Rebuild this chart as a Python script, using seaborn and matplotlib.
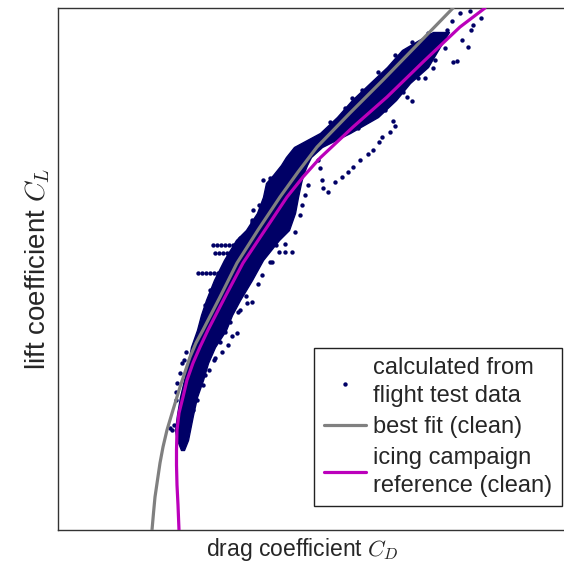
import seaborn as sns
import matplotlib.pyplot as plt
import pandas as pd

# best fit polar (clean)
fit_cd = [0.0304, 0.0307, 0.0310, 0.0315, 0.0320, 0.0326, 0.0334, 0.0346, 0.0360, 0.0370, 0.0380,
          0.0392, 0.0406, 0.0440, 0.0474, 0.0516, 0.0560, 0.0596, 0.0634, 0.0700, 0.0766, 0.0836, 0.0906]
fit_cl = [0.000, 0.0425, 0.0825, 0.125, 0.1675, 0.2075, 0.250, 0.300, 0.3575, 0.395, 0.4325,
          0.4675, 0.500, 0.5825, 0.6675, 0.750, 0.8325, 0.895, 0.9575, 1.0425, 1.125, 1.215, 1.305]

# icing campaign reference polar (clean)
ref_cd = [0.0358, 0.0356, 0.0354, 0.0353, 0.0353, 0.0354, 0.0358, 0.0366, 0.0374, 0.0386, 0.0400, 0.0416,
          0.0450, 0.0486, 0.0530, 0.0574, 0.0606, 0.0640, 0.0706, 0.0774, 0.0846, 0.0920, 0.0970]
ref_cl = [0.000, 0.0625, 0.1125, 0.1625, 0.200, 0.250, 0.2925, 0.3325, 0.375, 0.4175, 0.4575, 0.500,
          0.5825, 0.6675, 0.750, 0.8325, 0.8825, 0.930, 1.0075, 1.0825, 1.170, 1.2575, 1.305]

# dense part of the flight test cloud (left / right edge per CL)
core_cl = [0.200, 0.225, 0.250, 0.2875, 0.3325, 0.375, 0.4175, 0.4575, 0.500, 0.5375, 0.575, 0.625,
           0.675, 0.725, 0.750, 0.7925, 0.8325, 0.8675, 0.8875, 0.9125, 0.9325, 0.9575, 0.9925,
           1.0325, 1.075, 1.1175, 1.1575, 1.200, 1.225, 1.245]
core_left = [0.0362, 0.0354, 0.0350, 0.0354, 0.0360, 0.0368, 0.0376, 0.0382, 0.0394, 0.0402, 0.0412, 0.0428,
             0.0448, 0.0472, 0.0492, 0.0514, 0.0526, 0.0532, 0.0546, 0.0562, 0.0572, 0.0588, 0.0640,
             0.0674, 0.0704, 0.0740, 0.0774, 0.0804, 0.0838, 0.0866]
core_right = [0.0368, 0.0376, 0.0380, 0.0386, 0.0394, 0.0406, 0.0416, 0.0430, 0.0452, 0.0464, 0.0480, 0.0504,
              0.0526, 0.0558, 0.0578, 0.0590, 0.0596, 0.0602, 0.0606, 0.0614, 0.0622, 0.0644, 0.0700,
              0.0756, 0.0792, 0.0820, 0.0856, 0.0876, 0.0888, 0.0898]

# single scattered flight test points
pts_cd = [0.0426, 0.0434, 0.0442, 0.0450, 0.0458, 0.0466, 0.0474,
          0.0430, 0.0438, 0.0446, 0.0454, 0.0462, 0.0470,
          0.0396, 0.0404, 0.0412, 0.0420, 0.0428, 0.0436,
          0.0432, 0.0444, 0.0558, 0.0570, 0.0584,
          0.0640, 0.0644, 0.0646, 0.0656, 0.0670, 0.0684, 0.0696, 0.0706, 0.0720, 0.0736, 0.0746, 0.0758, 0.0636,
          0.0780, 0.0786, 0.0790, 0.0764, 0.0814, 0.0824, 0.0866, 0.0850, 0.0906, 0.0914,
          0.0920, 0.0940, 0.0904, 0.0936, 0.0962, 0.0946, 0.0942, 0.0894, 0.0880, 0.0924,
          0.0704, 0.0604, 0.0616, 0.0560, 0.0574, 0.0580, 0.0594, 0.0506, 0.0504, 0.0526,
          0.0344, 0.0340, 0.0348, 0.0364, 0.0360, 0.0354, 0.0352,
          0.0450, 0.0464, 0.0474, 0.0456, 0.0444, 0.0494, 0.0504, 0.0480, 0.0428, 0.0410,
          0.0544, 0.0552, 0.0600, 0.0604,
          # ragged edges of the dense cloud
          0.0352, 0.0368, 0.0372, 0.0386, 0.0394, 0.0406, 0.0418, 0.0430, 0.0440, 0.0460, 0.0476,
          0.0492, 0.0516, 0.0524, 0.0540, 0.0570, 0.0590, 0.0610, 0.0616, 0.0660, 0.0716, 0.0770,
          0.0806, 0.0836, 0.0870, 0.0890, 0.0624, 0.0660, 0.0690, 0.0724, 0.0756, 0.0790, 0.0824,
          0.0856, 0.0410, 0.0420, 0.0436, 0.0456, 0.0480, 0.0504, 0.0518, 0.0540]
pts_cl = [0.7125, 0.7125, 0.7125, 0.7125, 0.7125, 0.7125, 0.7125,
          0.6925, 0.6925, 0.6925, 0.6925, 0.6925, 0.6925,
          0.6425, 0.6425, 0.6425, 0.6425, 0.6425, 0.6425,
          0.6125, 0.6125, 0.695, 0.695, 0.695,
          0.905, 0.875, 0.855, 0.845, 0.870, 0.8825, 0.895, 0.9075, 0.925, 0.940, 0.950, 0.970, 0.925,
          0.995, 1.0225, 1.010, 0.9825, 1.0825, 1.0725, 1.155, 1.130, 1.170, 1.1725,
          1.2925, 1.2975, 1.2725, 1.2075, 1.280, 1.2625, 1.250, 1.250, 1.235, 1.225,
          1.080, 0.945, 0.955, 0.8925, 0.9075, 0.920, 0.9375, 0.800, 0.775, 0.875,
          0.250, 0.255, 0.2625, 0.4175, 0.3925, 0.3675, 0.345,
          0.495, 0.485, 0.4925, 0.4625, 0.445, 0.5675, 0.570, 0.550, 0.425, 0.3875,
          0.670, 0.7125, 0.7875, 0.8125,
          0.325, 0.425, 0.445, 0.300, 0.325, 0.3625, 0.400, 0.430, 0.470, 0.520, 0.545,
          0.585, 0.615, 0.6375, 0.670, 0.715, 0.745, 0.8375, 0.8625, 0.975, 1.005, 1.050,
          1.095, 1.130, 1.175, 1.205, 0.975, 1.020, 1.055, 1.100, 1.145, 1.1875, 1.220,
          1.2425, 0.5625, 0.600, 0.6375, 0.680, 0.730, 0.770, 0.8125, 0.880]

navy = "#000066"
sns.set_style("white")
plt.rcParams["font.family"] = ["Liberation Sans", "DejaVu Sans"]
plt.rcParams["mathtext.fontset"] = "cm"

fig = plt.figure(figsize=(5.64, 5.64), dpi=100)
ax = fig.add_axes([58 / 564, 34 / 564, 512 / 564, 522 / 564])

ax.fill_betweenx(core_cl, core_left, core_right, color=navy, lw=1.0, zorder=1)
sns.scatterplot(x=pts_cd, y=pts_cl, color=navy, s=10, linewidth=0, ax=ax, zorder=2,
                label="calculated from\nflight test data")
sns.lineplot(data=pd.DataFrame({"cd": fit_cd, "cl": fit_cl}), x="cd", y="cl", sort=False,
             estimator=None, color="#808080", lw=2.3, ax=ax, zorder=3, label="best fit (clean)")
sns.lineplot(data=pd.DataFrame({"cd": ref_cd, "cl": ref_cl}), x="cd", y="cl", sort=False,
             estimator=None, color="#bb00bb", lw=2.3, ax=ax, zorder=4,
             label="icing campaign\nreference (clean)")

ax.set_xlim(0.0116, 0.1140)
ax.set_ylim(0.0, 1.305)
ax.set_xticks([])
ax.set_yticks([])
for s in ax.spines.values():
    s.set_color("#333333")
    s.set_linewidth(1.0)
ax.set_xlabel("drag coefficient $C_D$", fontsize=16.5, labelpad=7)
ax.xaxis.set_label_coords(0.4766, -0.012, transform=ax.transAxes)
ax.xaxis.label.set_va("top")
ax.set_ylabel("lift coefficient $C_L$", fontsize=20, labelpad=4)

leg = ax.legend(loc="lower right", bbox_to_anchor=(0.984, 0.046), borderaxespad=0,
                fontsize=17, frameon=True, fancybox=False, framealpha=1, edgecolor="#222222",
                labelspacing=0.4, handletextpad=0.3, handlelength=1.8, borderpad=0.4)
for t in leg.get_texts():
    t.set_linespacing(1.3)
leg.get_frame().set_linewidth(1.0)

fig.savefig("out.png", dpi=100)
